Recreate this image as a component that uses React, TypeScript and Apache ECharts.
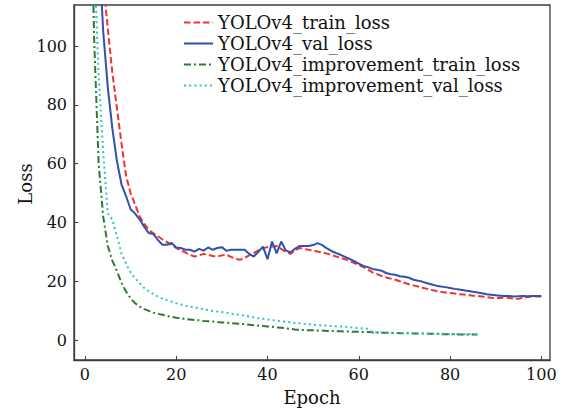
import React, { useEffect, useRef } from "react";
import * as echarts from "echarts";

const seriesNames = [
  "YOLOv4_train_loss",
  "YOLOv4_val_loss",
  "YOLOv4_improvement_train_loss",
  "YOLOv4_improvement_val_loss",
];

const xTicks = [0, 20, 40, 60, 80, 100];
const yTicks = [0, 20, 40, 60, 80, 100];

// epochs 1..100
const yoloTrain = [
  400, 250, 170, 122, 106, 91, 79, 67, 56, 50,
  46, 42, 39.5, 37.5, 36.3, 35.3, 34.2, 33.3, 32.3, 31.3,
  30.5, 29.8, 29.0, 28.4, 28.8, 29.3, 29.0, 28.6, 28.4, 28.8,
  29.0, 28.3, 27.6, 27.3, 28.0, 28.8, 29.6, 30.5, 31.2, 31.6,
  31.8, 32.0, 31.0, 30.0, 29.3, 30.5, 31.3, 31.0, 30.7, 30.4,
  30.1, 29.8, 29.4, 29.0, 28.4, 28.0, 27.5, 27.0, 26.2, 25.5,
  24.8, 24.0, 23.0, 22.4, 21.8, 21.3, 20.9, 20.5, 20.0, 19.5,
  19.0, 18.6, 18.2, 17.8, 17.4, 17.0, 16.7, 16.4, 16.2, 16.0,
  15.8, 15.6, 15.5, 15.3, 15.1, 15.0, 14.8, 14.6, 14.4, 14.3,
  14.3, 14.5, 14.3, 14.1, 14.0, 14.4, 14.6, 14.8, 14.8, 14.8,
];

const yoloVal = [
  350, 200, 135, 105, 86, 72, 61, 53, 49, 44.5,
  43, 41, 38.5, 36.4, 36.1, 34, 32.4, 32.4, 33.0, 31.5,
  31.3, 30.7, 30.7, 30.1, 31.0, 30.4, 31.5, 30.7, 31.3, 31.6,
  30.4, 30.7, 30.7, 30.7, 30.7, 29.3, 28.4, 30.0, 31.8, 27.5,
  33.5, 29.5, 33.5, 30.5, 29.8, 31.0, 32.0, 32.0, 32.0, 32.3,
  33.0, 32.3, 31.2, 30.3, 29.6, 29.0, 28.3, 27.6, 26.8, 26.0,
  25.2, 24.8, 24.2, 23.9, 23.6, 22.8, 22.4, 22.2, 21.7, 21.5,
  21.2, 20.5, 20.2, 19.8, 19.3, 18.9, 18.5, 18.2, 18.0, 17.7,
  17.4, 17.2, 16.9, 16.7, 16.4, 16.2, 15.9, 15.6, 15.4, 15.2,
  15.1, 15.0, 15.0, 14.8, 14.9, 15.0, 14.9, 15.0, 15.0, 15.0,
];

// epochs 1..86
const impTrain = [
  180, 103, 60, 42, 32, 27, 23.5, 19.5, 16.5, 14.2,
  12.5, 11.4, 10.5, 9.9, 9.3, 8.9, 8.6, 8.2, 7.9, 7.6,
  7.4, 7.1, 7.0, 6.8, 6.7, 6.5, 6.4, 6.3, 6.1, 6.0,
  5.9, 5.7, 5.6, 5.5, 5.4, 5.2, 5.0, 4.9, 4.8, 4.6,
  4.5, 4.3, 4.2, 4.0, 3.8, 3.6, 3.5, 3.4, 3.3, 3.3,
  3.2, 3.2, 3.1, 3.1, 3.0, 3.0, 2.9, 2.9, 2.8, 2.8,
  2.7, 2.7, 2.6, 2.6, 2.5, 2.5, 2.4, 2.4, 2.3, 2.3,
  2.3, 2.2, 2.2, 2.2, 2.1, 2.1, 2.1, 2.0, 2.0, 2.0,
  2.0, 1.9, 1.9, 1.9, 1.9, 1.9,
];

const impVal = [
  250, 130, 90, 64, 43, 41, 35.5, 29.5, 26, 23,
  21, 19.3, 17.7, 16.6, 15.6, 14.8, 14.1, 13.5, 13.0, 12.5,
  12.1, 11.7, 11.4, 11.1, 10.8, 10.5, 10.2, 9.9, 9.7, 9.5,
  9.3, 9.0, 8.8, 8.5, 8.3, 8.0, 7.7, 7.4, 7.2, 7.0,
  6.8, 6.6, 6.4, 6.2, 6.0, 5.8, 5.7, 5.5, 5.4, 5.2,
  5.1, 5.0, 4.9, 4.8, 4.7, 4.6, 4.5, 4.4, 4.2, 4.1,
  3.9, 3.8, 2.7, 2.6, 2.6, 2.5, 2.5, 2.4, 2.4, 2.3,
  2.3, 2.3, 2.2, 2.2, 2.2, 2.1, 2.1, 2.1, 2.1, 2.0,
  2.0, 2.0, 2.0, 2.0, 1.9, 1.9,
];

const FONT = '"DejaVu Serif", serif';
const AXIS_COLOR = "#3c3c3c";

const toPairs = (arr: number[]) => arr.map((v, i) => [i + 1, v]);

export default function App() {
  const ref = useRef<HTMLDivElement>(null);
  useEffect(() => {
    if (!ref.current) return;
    const chart = echarts.init(ref.current, undefined, { renderer: "svg" });
    const lineSeries = (name: string, data: number[], color: string, dash: any) => ({
      name,
      type: "line",
      data: toPairs(data),
      symbol: "none",
      showSymbol: false,
      clip: true,
      lineStyle: { color, width: 2, type: dash },
      itemStyle: { color },
      emphasis: { disabled: true },
    });
    chart.setOption({
      animation: false,
      backgroundColor: "#ffffff",
      grid: {
        left: 74,
        right: 13,
        top: 5,
        bottom: 52,
        show: true,
        borderColor: AXIS_COLOR,
        borderWidth: 1.3,
        backgroundColor: "transparent",
      },
      xAxis: {
        type: "value",
        min: -2.4,
        max: 101.9,
        axisLine: { show: true, onZero: false, lineStyle: { color: AXIS_COLOR, width: 1.3 } },
        axisTick: {
          show: true,
          inside: true,
          length: 4,
          customValues: xTicks,
          lineStyle: { color: AXIS_COLOR, width: 1 },
        },
        axisLabel: {
          customValues: xTicks,
          fontFamily: FONT,
          fontSize: 16,
          color: "#111",
          margin: 6,
        },
        splitLine: { show: false },
      },
      yAxis: {
        type: "value",
        min: -6.8,
        max: 114,
        axisLine: { show: true, onZero: false, lineStyle: { color: AXIS_COLOR, width: 1.3 } },
        axisTick: {
          show: true,
          inside: true,
          length: 4,
          customValues: yTicks,
          lineStyle: { color: AXIS_COLOR, width: 1 },
        },
        axisLabel: {
          customValues: yTicks,
          fontFamily: FONT,
          fontSize: 16,
          color: "#111",
          margin: 7,
        },
        splitLine: { show: false },
      },
      legend: {
        orient: "vertical",
        left: 178,
        top: 7,
        itemWidth: 29,
        itemHeight: 12,
        itemGap: 0,
        itemStyle: { opacity: 0 },
        data: seriesNames,
        textStyle: { fontFamily: FONT, fontSize: 18, lineHeight: 21, color: "#111" },
      },
      series: [
        lineSeries(seriesNames[0], yoloTrain, "#f5312f", [6.5, 3]),
        lineSeries(seriesNames[1], yoloVal, "#2f52b0", "solid"),
        lineSeries(seriesNames[2], impTrain, "#2d7a33", [7, 3, 2, 3]),
        lineSeries(seriesNames[3], impVal, "#2ec4c4", [2, 3.2]),
      ],
      graphic: [
        {
          type: "text",
          x: 312,
          y: 397,
          style: { text: "Epoch", font: `18px ${FONT}`, align: "center", verticalAlign: "middle", fill: "#111" },
        },
        {
          type: "text",
          x: 25,
          y: 184,
          rotation: Math.PI / 2,
          style: { text: "Loss", font: `18px ${FONT}`, align: "center", verticalAlign: "middle", fill: "#111" },
        },
      ],
    });
    return () => chart.dispose();
  }, []);
  return (
    <div
      ref={ref}
      style={{ position: "fixed", left: 0, top: 0, width: 563, height: 412, background: "#fff" }}
    />
  );
}
